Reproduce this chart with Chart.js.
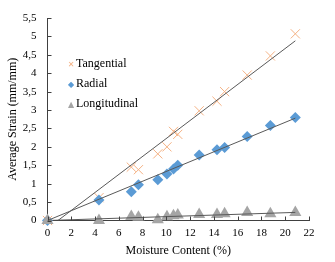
<!DOCTYPE html>
<html>
<head>
<meta charset="utf-8">
<script src="https://cdn.jsdelivr.net/npm/chart.js@4.4.1/dist/chart.umd.min.js"></script>
<style>
  html,body{margin:0;padding:0;background:#fff;}
  #wrap{position:relative;width:335px;height:262px;}
  #legend{position:absolute;left:67px;top:53px;font:12px "Liberation Serif",serif;color:#000;line-height:20px;}
  #legend div{white-space:nowrap;}
  #legend span{display:inline-block;width:8px;text-align:center;font:8px "DejaVu Sans",sans-serif;margin-right:1px;}
</style>
</head>
<body>
<div id="wrap">
  <canvas id="c" width="335" height="262"></canvas>
  <div id="legend">
    <div><span style="color:#F4B183">&#x2715;</span>Tangential</div>
    <div><span style="color:#5B9BD5">&#x25C6;</span>Radial</div>
    <div><span style="color:#A5A5A5">&#x25B2;</span>Longitudinal</div>
  </div>
</div>
<script>
/* Strain vs moisture content — scatter with linear trend lines */
const MOISTURE     = [0, 4.33, 7.05, 7.65, 9.28, 10.05, 10.6, 10.96, 12.76, 14.26, 14.9, 16.8, 18.75, 20.85];
const TANGENTIAL   = [0, 0.62, 1.45, 1.38, 1.81, 2.0, 2.42, 2.34, 2.98, 3.24, 3.5, 3.95, 4.47, 5.07];
const RADIAL       = [0, 0.56, 0.78, 0.97, 1.11, 1.26, 1.4, 1.5, 1.78, 1.92, 1.98, 2.28, 2.58, 2.8];
const LONGITUDINAL = [0, 0, 0.11, 0.09, 0.02, 0.1, 0.13, 0.15, 0.16, 0.16, 0.18, 0.22, 0.18, 0.22];

// trend line end points
const TREND_TAN  = [[0.88, 0], [20.85, 4.88]];
const TREND_RAD  = [[0, 0], [20.85, 2.78]];
const TREND_LONG = [[0, 0], [20.85, 0.22]];

const X_TICKS = [0, 2, 4, 6, 8, 10, 12, 14, 16, 18, 20, 22];
const Y_TICKS = [0, 0.5, 1, 1.5, 2, 2.5, 3, 3.5, 4, 4.5, 5, 5.5];

const ORANGE = '#F4B183', BLUE = '#5B9BD5', GREY = '#A5A5A5', LINE = '#595959', AXIS = '#404040';
const SERIF = '"Liberation Serif","Times New Roman",serif';

const pts = ys => MOISTURE.map((x, i) => ({x, y: ys[i]}));
const seg = p => p.map(([x, y]) => ({x, y}));
const comma = v => (v % 1 === 0 ? String(v) : v.toFixed(1).replace('.', ','));

function trend(data){
  return {type:'line', data:seg(data), borderColor:LINE, borderWidth:1, pointRadius:0,
    showLine:true, fill:false, order:0};
}

// short tick marks drawn inward from both axes, as in the original
const innerTicks = {
  id:'innerTicks',
  afterDatasetsDraw(chart){
    const {ctx, chartArea:a, scales:{x, y}} = chart;
    ctx.save();
    ctx.strokeStyle = AXIS; ctx.lineWidth = 1;
    ctx.beginPath();
    X_TICKS.forEach(v => { const px = Math.round(x.getPixelForValue(v)) + .5; ctx.moveTo(px, a.bottom); ctx.lineTo(px, a.bottom - 4); });
    Y_TICKS.forEach(v => { const py = Math.round(y.getPixelForValue(v)) + .5; ctx.moveTo(a.left, py); ctx.lineTo(a.left + 4, py); });
    ctx.stroke();
    ctx.restore();
  }
};

new Chart(document.getElementById('c'), {
  type:'scatter',
  data:{datasets:[
    {label:'Tangential', data:pts(TANGENTIAL), pointStyle:'crossRot', pointRadius:6.5, pointBorderWidth:1,
      borderColor:ORANGE, backgroundColor:ORANGE, order:3, clip:false},
    {label:'Radial', data:pts(RADIAL), pointStyle:'rectRot', pointRadius:5.5, pointBorderWidth:0,
      borderColor:BLUE, backgroundColor:BLUE, order:2, clip:false},
    {label:'Longitudinal', data:pts(LONGITUDINAL), pointStyle:'triangle', pointRadius:7, pointBorderWidth:0,
      borderColor:GREY, backgroundColor:GREY, order:1, clip:false},
    trend(TREND_TAN), trend(TREND_RAD), trend(TREND_LONG)
  ]},
  options:{
    responsive:false, animation:false,
    layout:{padding:{top:18, right:26, left:6, bottom:4}},
    plugins:{legend:{display:false}, tooltip:{enabled:false}},
    scales:{
      x:{type:'linear', min:0, max:22,
        afterBuildTicks:s => { s.ticks = X_TICKS.map(value => ({value})); },
        afterFit:s => { s.height = 37.5; },
        grid:{display:false, drawTicks:false}, border:{display:true, color:AXIS, width:1},
        ticks:{color:'#000', padding:6, font:{family:SERIF, size:11}, callback:v => comma(v)},
        title:{display:true, text:'Moisture Content (%)', color:'#000', font:{family:SERIF, size:12}, padding:{top:0, bottom:0}}
      },
      y:{type:'linear', min:0, max:5.5,
        afterBuildTicks:s => { s.ticks = Y_TICKS.map(value => ({value})); },
        afterFit:s => { s.width = 41.5; },
        grid:{display:false, drawTicks:false}, border:{display:true, color:AXIS, width:1},
        ticks:{color:'#000', padding:11, font:{family:SERIF, size:11}, callback:v => comma(v)},
        title:{display:true, text:'Average Strain (mm/mm)', color:'#000', font:{family:SERIF, size:12}, padding:{top:0, bottom:0}}
      }
    }
  },
  plugins:[innerTicks]
});
</script>
</body>
</html>
